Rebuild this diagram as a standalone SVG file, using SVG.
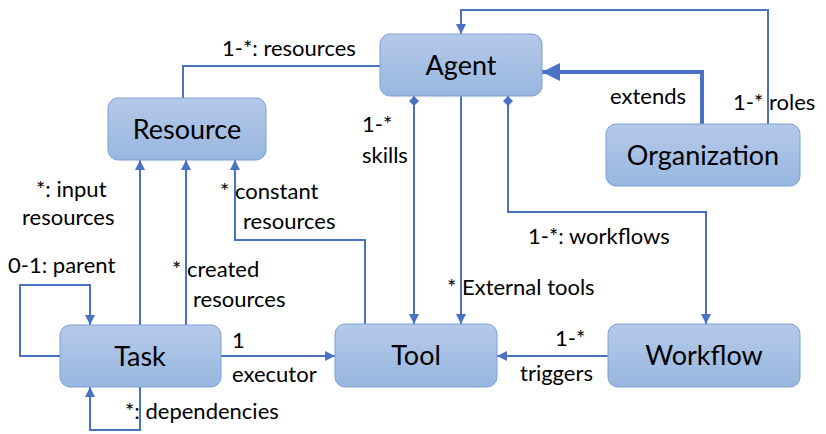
<svg xmlns="http://www.w3.org/2000/svg" width="826" height="434" viewBox="0 0 826 434">
<defs>
<linearGradient id="g" x1="0" y1="0" x2="0" y2="1"><stop offset="0" stop-color="#b5c9e8"/><stop offset="1" stop-color="#98b7e0"/></linearGradient>
<marker id="a" viewBox="0 0 10 10" refX="10" refY="5" markerWidth="10" markerHeight="10" markerUnits="userSpaceOnUse" orient="auto"><path d="M0,0L10,5L0,10z" fill="#4a72c4"/></marker>
<marker id="ab" viewBox="0 0 10 10" refX="10" refY="5" markerWidth="18" markerHeight="18" markerUnits="userSpaceOnUse" orient="auto"><path d="M0,0L10,5L0,10z" fill="#4a72c4"/></marker>
<marker id="d" viewBox="0 0 10 10" refX="0" refY="5" markerWidth="10" markerHeight="10" markerUnits="userSpaceOnUse" orient="auto"><path d="M0,5L5,0L10,5L5,10z" fill="#4a72c4"/></marker>
</defs>
<style>
.n rect{fill:url(#g);stroke:#7d9fd6;stroke-width:1}
.n text{font-family:Lato,"Open Sans",sans-serif;font-size:27px;text-anchor:middle;fill:#000}
.c path{fill:none;stroke:#4a72c4;stroke-width:2}
.l{font-family:Lato,"Open Sans",sans-serif;font-size:22px;fill:#000}
</style>
<g class="c">
<path d="M183,98V66H380"/>
<path d="M702,124V72H542" style="stroke-width:4" marker-end="url(#ab)"/>
<path d="M768,124V10H461V34" marker-end="url(#a)"/>
<path d="M414,96V324" marker-start="url(#d)" marker-end="url(#a)"/>
<path d="M461,96V324" marker-end="url(#a)"/>
<path d="M508,96V212H706V324" marker-start="url(#d)" marker-end="url(#a)"/>
<path d="M608,356H497" marker-end="url(#a)"/>
<path d="M221,356H335" marker-end="url(#a)"/>
<path d="M140,325V160" marker-end="url(#a)"/>
<path d="M186,325V160" marker-end="url(#a)"/>
<path d="M365,324V240H235V160" marker-end="url(#a)"/>
<path d="M60,356H20V285H90V325" marker-end="url(#a)"/>
<path d="M140,387V430H90V387" marker-end="url(#a)"/>
</g>
<g id="agent" class="n"><rect x="380" y="34" width="162" height="62" rx="10"/><text x="461" y="75">Agent</text></g>
<g id="organization" class="n"><rect x="606" y="124" width="194" height="62" rx="10"/><text x="703" y="165">Organization</text></g>
<g id="resource" class="n"><rect x="108" y="98" width="158" height="62" rx="10"/><text x="187" y="139">Resource</text></g>
<g id="task" class="n"><rect x="60" y="325" width="161" height="62" rx="10"/><text x="140" y="366">Task</text></g>
<g id="tool" class="n"><rect x="335" y="324" width="162" height="63" rx="10"/><text x="416" y="365">Tool</text></g>
<g id="workflow" class="n"><rect x="608" y="324" width="192" height="63" rx="10"/><text x="704" y="365">Workflow</text></g>
<g class="l">
<text x="222" y="56">1-*: resources</text>
<text x="610" y="104">extends</text>
<text x="733" y="110">1-* roles</text>
<text x="362" y="132">1-*</text>
<text x="362" y="163">skills</text>
<text x="447" y="295">* External tools</text>
<text x="528" y="244">1-*: workflows</text>
<text x="555" y="346">1-*</text>
<text x="520" y="381">triggers</text>
<text x="232" y="348">1</text>
<text x="232" y="382">executor</text>
<text x="36" y="197">*: input</text>
<text x="22" y="225">resources</text>
<text x="172" y="277">* created</text>
<text x="193" y="307">resources</text>
<text x="220" y="199">* constant</text>
<text x="243" y="229">resources</text>
<text x="8" y="273">0-1: parent</text>
<text x="125" y="419">*:  dependencies</text>
</g>
</svg>
